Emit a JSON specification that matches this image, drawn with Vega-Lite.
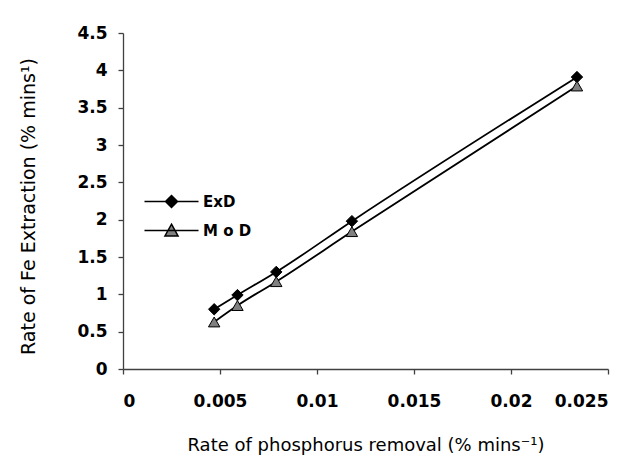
{
  "$schema": "https://vega.github.io/schema/vega-lite/v6.json",
  "width": 485,
  "height": 336,
  "autosize": {"type": "none"},
  "padding": {"left": 123, "top": 33, "right": 28, "bottom": 97},
  "background": "white",
  "config": {
    "view": {"stroke": null},
    "font": "DejaVu Sans",
    "axis": {
      "grid": false,
      "domainColor": "#404040",
      "domainWidth": 1.3,
      "tickColor": "#404040",
      "tickWidth": 1.3,
      "tickSize": 5,
      "labelFont": "DejaVu Sans",
      "labelFontWeight": "bold",
      "labelFontSize": 17,
      "labelColor": "black",
      "titleFont": "DejaVu Sans",
      "titleFontWeight": "normal",
      "titleFontSize": 18,
      "titleColor": "black"
    }
  },
  "data": {
    "values": [
      {"series": "ExD", "removal": 0.0047, "extraction": 0.80},
      {"series": "ExD", "removal": 0.0059, "extraction": 0.99},
      {"series": "ExD", "removal": 0.0079, "extraction": 1.30},
      {"series": "ExD", "removal": 0.0118, "extraction": 1.98},
      {"series": "ExD", "removal": 0.0234, "extraction": 3.91},
      {"series": "MoD", "removal": 0.0047, "extraction": 0.63},
      {"series": "MoD", "removal": 0.0059, "extraction": 0.85},
      {"series": "MoD", "removal": 0.0079, "extraction": 1.17},
      {"series": "MoD", "removal": 0.0118, "extraction": 1.84},
      {"series": "MoD", "removal": 0.0234, "extraction": 3.79}
    ]
  },
  "encoding": {
    "x": {
      "field": "removal",
      "type": "quantitative",
      "scale": {"domain": [0, 0.025], "nice": false, "zero": true},
      "axis": {
        "values": [0, 0.005, 0.01, 0.015, 0.02, 0.025],
        "labelExpr": "'' + datum.value",
        "labelPadding": 19,
        "title": "Rate of phosphorus removal (% mins⁻¹)",
        "titlePadding": 27
      }
    },
    "y": {
      "field": "extraction",
      "type": "quantitative",
      "scale": {"domain": [0, 4.5], "nice": false},
      "axis": {
        "values": [0, 0.5, 1, 1.5, 2, 2.5, 3, 3.5, 4, 4.5],
        "labelExpr": "'' + datum.value",
        "labelPadding": 11,
        "title": "Rate of Fe Extraction (% mins¹)",
        "titleFontSize": 19,
        "titleY": 173,
        "titlePadding": 38
      }
    }
  },
  "layer": [
    {
      "mark": {"type": "line", "interpolate": "monotone", "color": "black", "strokeWidth": 1.8},
      "encoding": {"detail": {"field": "series"}}
    },
    {
      "mark": {"type": "point", "filled": true, "stroke": "black", "strokeWidth": 1, "size": 130, "opacity": 1},
      "encoding": {
        "shape": {
          "field": "series",
          "type": "nominal",
          "scale": {"domain": ["ExD", "MoD"], "range": ["diamond", "triangle-up"]},
          "legend": null
        },
        "fill": {
          "field": "series",
          "type": "nominal",
          "scale": {"domain": ["ExD", "MoD"], "range": ["black", "#808080"]},
          "legend": null
        }
      }
    },
    {
      "transform": [{"filter": "datum.series == 'none'"}],
      "mark": {"type": "point", "filled": true, "stroke": "black", "strokeWidth": 1.5, "size": 130, "opacity": 1},
      "encoding": {
        "shape": {
          "field": "series",
          "type": "nominal",
          "scale": {"domain": ["ExD", "MoD"], "range": ["M-4.74,0L4.74,0M0,-1.05L1.05,0L0,1.05L-1.05,0Z", "M-4.74,0L4.74,0M0,-1.1L1.15,0.95L-1.15,0.95Z"]},
          "legend": {
            "title": null,
            "orient": "none",
            "legendX": 41,
            "legendY": 161,
            "padding": 0,
            "rowPadding": 10,
            "labelOffset": 24,
            "labelFont": "DejaVu Sans",
            "labelFontWeight": "bold",
            "labelFontSize": 15,
            "labelColor": "black",
            "symbolSize": 130,
            "labelExpr": "datum.value == 'MoD' ? 'M o D' : datum.value",
            "encode": {
              "symbols": {
                "update": {
                  "stroke": {"value": "black"},
                  "strokeWidth": {"value": 1.5}
                }
              }
            }
          }
        },
        "fill": {
          "field": "series",
          "type": "nominal",
          "scale": {"domain": ["ExD", "MoD"], "range": ["black", "#808080"]}
        }
      }
    }
  ],
  "resolve": {
    "scale": {"shape": "independent", "fill": "independent"},
    "legend": {"shape": "independent", "fill": "independent"}
  }
}
